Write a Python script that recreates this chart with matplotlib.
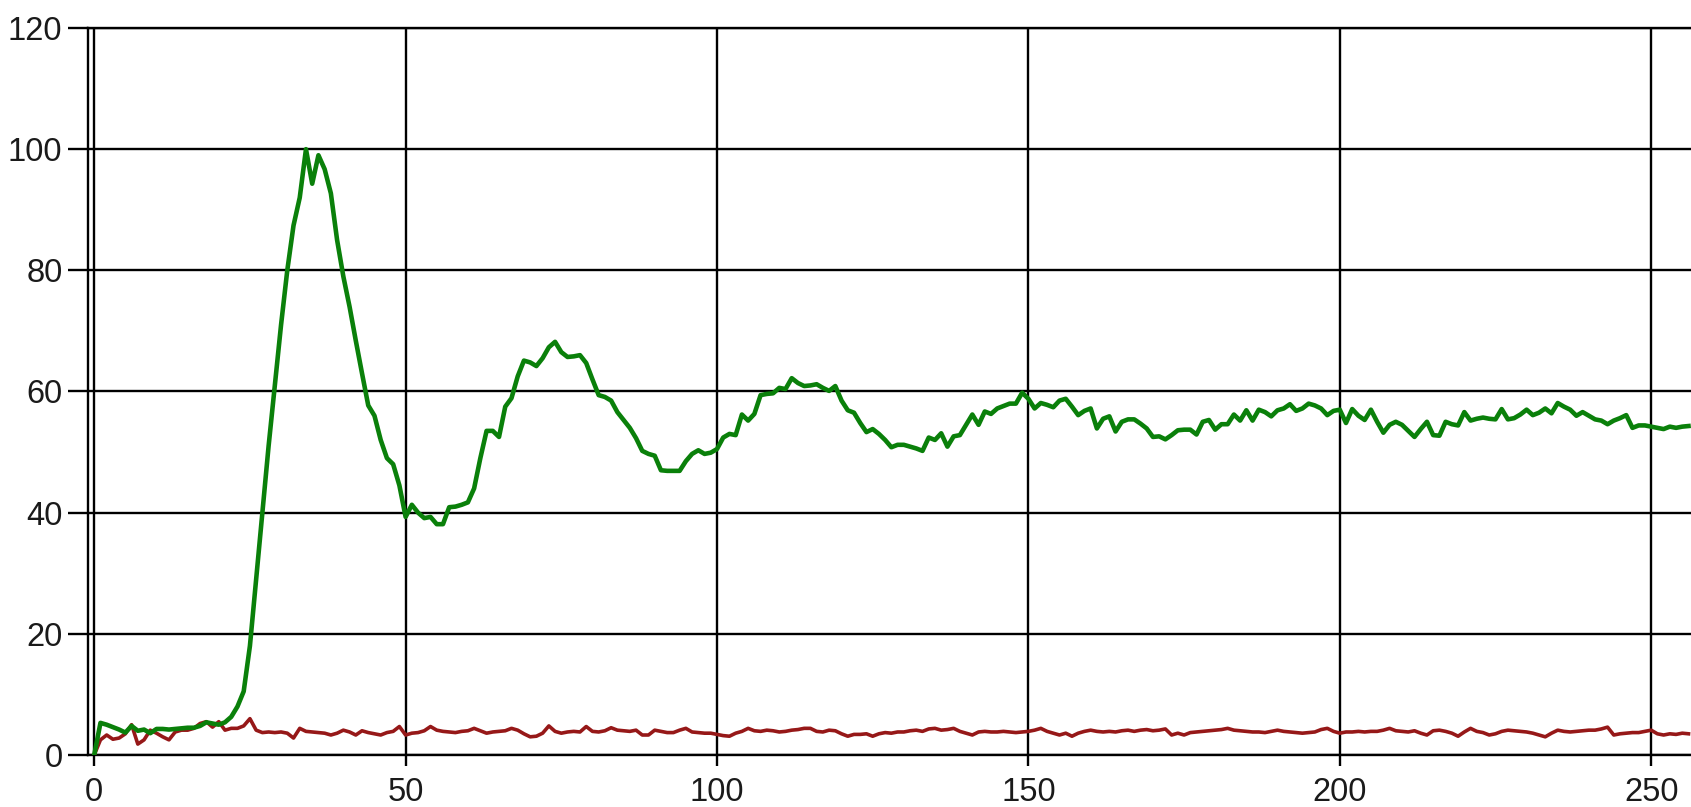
import numpy as np
from matplotlib import pyplot as plt

plt.rcParams['font.family'] = ['Liberation Sans', 'DejaVu Sans']

# green series (one sample per x step)
green = [
    0, 5.3, 5.0, 4.6, 4.2, 3.7, 4.8, 4.0, 4.2, 3.6,
    4.3, 4.3, 4.2, 4.3, 4.4, 4.5, 4.5, 4.8, 5.4, 5.2,
    5.0, 5.4, 6.3, 8.0, 10.5, 18, 29, 40, 51, 61,
    71, 80, 87.4, 92, 100, 94.3, 99, 96.7, 92.7, 85,
    79, 74, 68.4, 63, 57.7, 56, 52, 49, 48, 44.5,
    39.3, 41.3, 40, 39.1, 39.3, 38.1, 38.1, 40.9, 41, 41.3,
    41.7, 44, 49, 53.5, 53.5, 52.5, 57.5, 58.9, 62.5, 65.1,
    64.8, 64.2, 65.5, 67.3, 68.2, 66.5, 65.7, 65.8, 66, 64.7,
    62, 59.4, 59.1, 58.5, 56.6, 55.3, 54, 52.3, 50.2, 49.7,
    49.4, 47, 46.9, 46.9, 46.9, 48.5, 49.7, 50.3, 49.7, 49.9,
    50.5, 52.4, 53, 52.8, 56.2, 55.2, 56.3, 59.4, 59.6, 59.7,
    60.6, 60.4, 62.2, 61.4, 60.9, 61, 61.2, 60.6, 60.1, 60.9,
    58.5, 56.9, 56.5, 54.8, 53.3, 53.8, 53, 52, 50.8, 51.2,
    51.2, 50.9, 50.6, 50.2, 52.4, 52, 53.1, 50.9, 52.6, 52.8,
    54.5, 56.2, 54.5, 56.7, 56.3, 57.2, 57.6, 58, 58, 59.8,
    58.8, 57.2, 58.1, 57.8, 57.4, 58.5, 58.8, 57.5, 56.1, 56.8,
    57.2, 53.9, 55.5, 55.9, 53.4, 55, 55.4, 55.4, 54.7, 53.9,
    52.5, 52.6, 52.1, 52.8, 53.6, 53.7, 53.7, 52.9, 55, 55.3,
    53.7, 54.6, 54.6, 56.2, 55.2, 56.9, 55.2, 57, 56.6, 55.9,
    56.9, 57.2, 57.9, 56.8, 57.2, 58, 57.7, 57.2, 56.1, 56.8,
    57, 54.8, 57.1, 56, 55.3, 57, 55, 53.2, 54.5, 55,
    54.5, 53.5, 52.5, 53.8, 55, 52.8, 52.7, 55, 54.6, 54.4,
    56.6, 55.2, 55.5, 55.7, 55.5, 55.4, 57.1, 55.4, 55.6, 56.2,
    57, 56.1, 56.5, 57.2, 56.4, 58.1, 57.5, 57, 56, 56.6,
    56, 55.4, 55.2, 54.6, 55.2, 55.6, 56.1, 54, 54.4, 54.4,
    54.2, 54, 53.8, 54.2, 54, 54.2, 54.3,
]

# dark red series
red = [
    0.0, 2.5, 3.3, 2.6, 2.8, 3.5, 5.0, 1.8, 2.5, 4.1,
    3.6, 3.0, 2.5, 3.8, 4.1, 4.1, 4.4, 5.2, 5.5, 4.6,
    5.5, 4.1, 4.4, 4.4, 4.8, 6.0, 4.1, 3.7, 3.8, 3.7,
    3.8, 3.6, 2.8, 4.4, 3.9, 3.8, 3.7, 3.6, 3.3, 3.6,
    4.1, 3.8, 3.3, 4.0, 3.7, 3.5, 3.3, 3.7, 3.9, 4.7,
    3.3, 3.6, 3.7, 4.0, 4.7, 4.1, 3.9, 3.8, 3.7, 3.9,
    4.0, 4.4, 4.0, 3.6, 3.8, 3.9, 4.0, 4.4, 4.1, 3.5,
    3.0, 3.1, 3.6, 4.8, 3.9, 3.6, 3.8, 3.9, 3.8, 4.7,
    3.9, 3.8, 4.0, 4.5, 4.1, 4.0, 3.9, 4.1, 3.3, 3.3,
    4.1, 3.9, 3.7, 3.7, 4.1, 4.4, 3.8, 3.7, 3.6, 3.6,
    3.4, 3.2, 3.1, 3.6, 3.9, 4.4, 4.0, 3.9, 4.1, 4.0,
    3.8, 3.9, 4.1, 4.2, 4.4, 4.4, 3.9, 3.8, 4.1, 4.0,
    3.5, 3.1, 3.4, 3.4, 3.5, 3.1, 3.5, 3.7, 3.6, 3.8,
    3.8, 4.0, 4.1, 3.9, 4.3, 4.4, 4.1, 4.2, 4.4, 3.9,
    3.6, 3.3, 3.8, 3.9, 3.8, 3.8, 3.9, 3.8, 3.7, 3.8,
    3.9, 4.1, 4.4, 3.9, 3.6, 3.3, 3.6, 3.1, 3.6, 3.9,
    4.1, 3.9, 3.8, 3.9, 3.8, 4.0, 4.1, 3.9, 4.1, 4.2,
    4.0, 4.1, 4.3, 3.3, 3.6, 3.3, 3.7, 3.8, 3.9, 4.0,
    4.1, 4.2, 4.4, 4.1, 4.0, 3.9, 3.8, 3.8, 3.7, 3.9,
    4.1, 3.9, 3.8, 3.7, 3.6, 3.7, 3.8, 4.2, 4.4, 3.9,
    3.6, 3.8, 3.8, 3.9, 3.8, 3.9, 3.9, 4.1, 4.4, 4.0,
    3.9, 3.8, 4.0, 3.6, 3.3, 4.0, 4.1, 3.9, 3.6, 3.1,
    3.8, 4.4, 3.9, 3.7, 3.3, 3.5, 3.9, 4.1, 4.0, 3.9,
    3.8, 3.6, 3.3, 3.0, 3.6, 4.1, 3.9, 3.8, 3.9, 4.0,
    4.1, 4.1, 4.3, 4.6, 3.3, 3.5, 3.6, 3.7, 3.7, 3.9,
    4.1, 3.5, 3.3, 3.5, 3.4, 3.6, 3.5,
]

x = np.arange(len(green))
xticks = [0, 50, 100, 150, 200, 250]
yticks = [0, 20, 40, 60, 80, 100, 120]

fig = plt.figure(figsize=(16.91, 8.07), dpi=100)
ax = fig.add_axes([88 / 1691, 52 / 807, 1 - 88 / 1691, 727 / 807])

ax.plot(x, red, color='#961818', lw=2.6, zorder=3)
ax.plot(x, green, color='#0a800a', lw=3.3, zorder=4)

ax.set_xlim(-1, 256.4)
ax.set_ylim(0, 120)
ax.set_xticks(xticks)
ax.set_yticks(yticks)
ax.grid(True, color='black', lw=1.7)
ax.set_axisbelow(True)

ax.spines['right'].set_visible(False)
for s in ['left', 'bottom', 'top']:
    ax.spines[s].set_linewidth(1.7)
    ax.spines[s].set_color('black')

ax.tick_params(axis='y', length=14.4, width=1.7, pad=4.0, labelsize=23.5, colors='black', labelcolor='#1a1a1a')
ax.tick_params(axis='x', length=8, width=1.7, pad=8.0, labelsize=23.5, colors='black', labelcolor='#1a1a1a')

plt.savefig('out.png', dpi=100)
